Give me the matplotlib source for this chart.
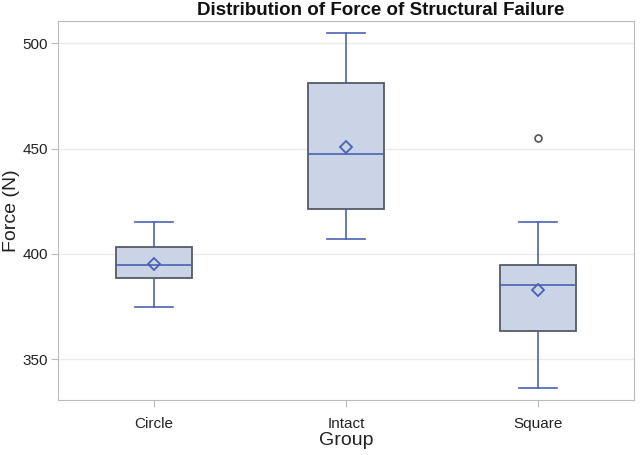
import matplotlib
matplotlib.use('Agg')
import matplotlib.pyplot as plt

plt.rcParams['font.family'] = ['Liberation Sans', 'DejaVu Sans']

# Box plot summary
groups = ['Circle', 'Intact', 'Square']
q1 = [388.7, 421.4, 363.5]
median = [394.9, 447.6, 385.2]
q3 = [403.4, 481.4, 394.9]
whisker_low = [374.9, 407.1, 336.3]
whisker_high = [415.3, 505.2, 415.2]
means = [395.3, 451.0, 383.0]
outliers = [[], [], [455.2]]

box_fill = '#CBD4E6'
box_edge = '#555A66'
line_blue = '#4A62B3'

stats = []
for i, name in enumerate(groups):
    stats.append({'label': name, 'q1': q1[i], 'med': median[i], 'q3': q3[i],
                  'whislo': whisker_low[i], 'whishi': whisker_high[i],
                  'mean': means[i], 'fliers': outliers[i]})

fig = plt.figure(figsize=(6.4, 4.55), dpi=100)
ax = fig.add_axes([0.0906, 0.121, 0.9, 0.832])

ax.bxp(stats, positions=[1, 2, 3], widths=0.4, patch_artist=True,
       showmeans=True, showfliers=True,
       boxprops=dict(facecolor=box_fill, edgecolor=box_edge, linewidth=1.3),
       medianprops=dict(color=line_blue, linewidth=1.2),
       whiskerprops=dict(color=line_blue, linewidth=1.2),
       capprops=dict(color=line_blue, linewidth=1.2),
       capwidths=0.2,
       meanprops=dict(marker='D', markerfacecolor='none', markeredgecolor=line_blue,
                      markeredgewidth=1.3, markersize=6),
       flierprops=dict(marker='o', markerfacecolor='none', markeredgecolor='#555555',
                       markeredgewidth=1.2, markersize=5))

ax.set_xlim(0.5, 3.5)
ax.set_ylim(330.6, 510.5)
ax.set_yticks([350, 400, 450, 500])
ax.yaxis.grid(True, color='#EBEBEB', linewidth=1)
ax.set_axisbelow(True)

for s in ax.spines.values():
    s.set_color('#BBBBBB')
ax.tick_params(axis='both', colors='#BBBBBB', labelcolor='#222222', labelsize=11, length=5)
ax.tick_params(axis='y', pad=2)
ax.tick_params(axis='x', pad=7)

ax.set_xlabel('Group', fontsize=14, color='#222222', labelpad=1)
ax.set_ylabel('Force (N)', fontsize=14, color='#222222', labelpad=2)
fig.text(0.595, 0.995, 'Distribution of Force of Structural Failure',
         ha='center', va='top', fontsize=13.5, fontweight='bold', color='#111111')

fig.savefig('out.png', dpi=100)
